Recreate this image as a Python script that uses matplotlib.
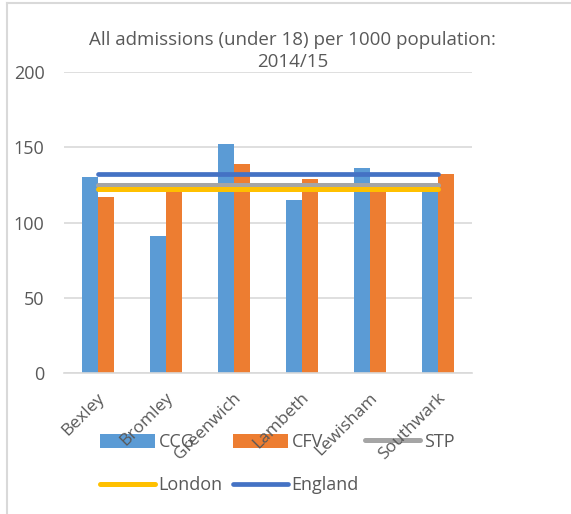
import matplotlib.pyplot as plt
import matplotlib.transforms as mtransforms
import numpy as np

plt.rcParams['font.family'] = ['Open Sans', 'DejaVu Sans']

# data
boroughs = ["Bexley", "Bromley", "Greenwich", "Lambeth", "Lewisham", "Southwark"]
ccg = [130, 91, 152, 115, 136, 125]
cfv = [117, 123, 139, 129, 123, 132]
stp = [125, 125, 125, 125, 125, 125]
london = [122.5, 122.5, 122.5, 122.5, 122.5, 122.5]
england = [132, 132, 132, 132, 132, 132]

grey = "#595959"
fs = 13

fig = plt.figure(figsize=(5.71, 5.14), dpi=100)
ax = fig.add_axes([64/571, 1 - 373/514, 408/571, 301/514])
ax.patch.set_alpha(0)

x = np.arange(len(boroughs))
w = 0.24
h_ccg = ax.bar(x - w/2, ccg, w, color="#5B9BD5", label="CCG", zorder=2)
h_cfv = ax.bar(x + w/2, cfv, w, color="#ED7D31", label="CFV", zorder=2)
h_stp, = ax.plot(x, stp, color="#A5A5A5", lw=3.6, solid_capstyle="round", label="STP", zorder=3)
h_lon, = ax.plot(x, london, color="#FFC000", lw=3.6, solid_capstyle="round", label="London", zorder=3)
h_eng, = ax.plot(x, england, color="#4472C4", lw=3.4, solid_capstyle="round", label="England", zorder=3)

ax.set_xlim(-0.5, len(boroughs) - 0.5)
ax.set_ylim(0, 200)
ax.set_yticks([0, 50, 100, 150, 200])
ax.yaxis.grid(True, color="#D9D9D9", lw=1.2)
ax.set_axisbelow(True)
for s in ["top", "right", "left"]:
    ax.spines[s].set_visible(False)
ax.spines["bottom"].set_color("#D9D9D9")
ax.spines["bottom"].set_linewidth(1.2)
ax.tick_params(length=0, labelsize=fs, labelcolor=grey)
ax.tick_params(axis="y", pad=14)
ax.set_xticks(x)
ax.set_xticklabels(boroughs, rotation=45, ha="right", rotation_mode="anchor", fontsize=12.5)
shift = mtransforms.ScaledTranslation(-1/100, -12/100, fig.dpi_scale_trans)
for lab in ax.get_xticklabels():
    lab.set_transform(lab.get_transform() + shift)

fig.text(0.512, 1 - 51/514, "All admissions (under 18) per 1000 population:\n2014/15",
         ha="center", va="center", fontsize=13.5, color=grey, linespacing=1.35)

# legend laid out in Excel's grid: three columns, two rows
# drawn under the axes so the rotated tick labels sit on top, as in Excel
cols = [([h_ccg, h_lon], ["CCG", "London"], 100),
        ([h_cfv, h_eng], ["CFV", "England"], 233),
        ([h_stp], ["STP"], 365)]
for handles, labels, px in cols:
    leg = fig.legend(handles, labels, loc="upper left",
                     bbox_to_anchor=(px/571, 1 - 433/514), frameon=False,
                     fontsize=fs, labelcolor=grey, handlelength=3.05, handleheight=0.8,
                     handletextpad=0.2, labelspacing=1.4, borderpad=0, borderaxespad=0)
    leg.set_zorder(-1)

# chart border
fig.add_artist(plt.Line2D([7/571, 7/571], [0, 1 - 3/514], color="#D9D9D9", lw=1.5))
fig.add_artist(plt.Line2D([7/571, 1], [1 - 3/514, 1 - 3/514], color="#D9D9D9", lw=1.5))

fig.savefig("out.png", dpi=100)
